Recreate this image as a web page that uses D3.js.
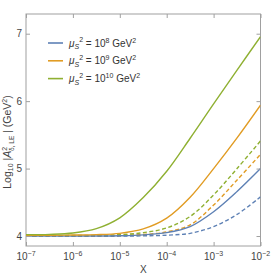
<!DOCTYPE html>
<html>
<head>
<meta charset="utf-8">
<script src="https://cdn.jsdelivr.net/npm/d3@7"></script>
<style>
  body { margin: 0; background: #fff; }
  svg text { font-family: "Liberation Sans", Arial, sans-serif; }
</style>
</head>
<body>
<svg id="chart" width="271" height="277"></svg>
<script>
//Data (half-decade steps in X)
const xValues = [1e-7, 3.162e-7, 1e-6, 3.162e-6, 1e-5, 3.162e-5, 1e-4, 3.162e-4, 1e-3, 3.162e-3, 1e-2];
const greenSolid  = [4.02, 4.025, 4.045, 4.11, 4.27, 4.57, 4.96, 5.45, 5.96, 6.46, 6.955];
const orangeSolid = [4.01, 4.011, 4.014, 4.02, 4.04, 4.105, 4.265, 4.575, 5.0, 5.455, 5.94];
const greenDash   = [4.005, 4.005, 4.007, 4.01, 4.02, 4.05, 4.12, 4.29, 4.61, 5.0, 5.41];
const orangeDash  = [4.0, 4.0, 4.002, 4.004, 4.008, 4.022, 4.06, 4.165, 4.46, 4.83, 5.21];
const blueSolid   = [3.998, 3.998, 3.999, 4.0, 4.004, 4.017, 4.05, 4.14, 4.36, 4.66, 5.0];
const blueDash    = [3.995, 3.995, 3.995, 3.996, 3.998, 4.003, 4.012, 4.04, 4.14, 4.32, 4.58];
const muExps = [8, 9, 10];
const xTickExps = [-7, -6, -5, -4, -3, -2];
const yTicks = [4, 5, 6, 7];

const colors = { blue: "#5E81B5", orange: "#E19C24", green: "#8FB032" };

let series = [
    { v: blueDash, c: colors.blue, dash: true },
    { v: orangeDash, c: colors.orange, dash: true },
    { v: greenDash, c: colors.green, dash: true },
    { v: blueSolid, c: colors.blue, dash: false },
    { v: orangeSolid, c: colors.orange, dash: false },
    { v: greenSolid, c: colors.green, dash: false },
];

let svg = d3.select("#chart");
let plotLeft = 26, plotRight = 260.5, plotTop = 14, plotBottom = 246;

let x = d3.scaleLog().domain([1e-7, 1e-2]).range([plotLeft, plotRight]);
let y = d3.scaleLinear().domain([3.852, 7.292]).range([plotBottom, plotTop]);

//Frame
svg.append("rect")
    .attr("x", plotLeft).attr("y", plotTop)
    .attr("width", plotRight - plotLeft).attr("height", plotBottom - plotTop)
    .attr("fill", "none").attr("stroke", "#a0a0a0").attr("stroke-width", 1);

//Curves
svg.append("clipPath").attr("id", "clip")
    .append("rect").attr("x", plotLeft).attr("y", plotTop)
    .attr("width", plotRight - plotLeft).attr("height", plotBottom - plotTop);

let line = d3.line()
    .x((d, i) => x(xValues[i]))
    .y(d => y(d))
    .curve(d3.curveCatmullRom.alpha(0.5));

svg.append("g").attr("clip-path", "url(#clip)")
    .selectAll("path")
    .data(series)
    .enter().append("path")
    .attr("d", d => line(d.v))
    .attr("fill", "none")
    .attr("stroke", d => d.c)
    .attr("stroke-width", 1.4)
    .attr("stroke-dasharray", d => d.dash ? "4,2.5" : null);

//Axes (ticks inside the frame, like Mathematica)
let tickColor = "#a0a0a0";
let xTickVals = xTickExps.map(e => Math.pow(10, e));
let bottomAxis = svg.append("g").attr("transform", `translate(0,${plotBottom})`)
    .call(d3.axisBottom(x).tickValues(xTickVals).tickSize(-4).tickFormat(""));
let topAxis = svg.append("g").attr("transform", `translate(0,${plotTop})`)
    .call(d3.axisTop(x).tickValues(xTickVals).tickSize(-4).tickFormat(""));
let leftAxis = svg.append("g").attr("transform", `translate(${plotLeft},0)`)
    .call(d3.axisLeft(y).tickValues(yTicks).tickSize(-4).tickFormat(""));
let rightAxis = svg.append("g").attr("transform", `translate(${plotRight},0)`)
    .call(d3.axisRight(y).tickValues(yTicks).tickSize(-4).tickFormat(""));
[bottomAxis, topAxis, leftAxis, rightAxis].forEach(g => {
    g.select(".domain").remove();
    g.selectAll("line").attr("stroke", tickColor);
});

//Tick labels
let labelColor = "#444";
xTickExps.forEach(e => {
    let t = svg.append("text")
        .attr("x", x(Math.pow(10, e))).attr("y", 260)
        .attr("text-anchor", "middle")
        .attr("font-size", 10).attr("fill", labelColor);
    t.append("tspan").text("10");
    t.append("tspan").attr("dy", -4).attr("font-size", 7).text("\u2212" + (-e));
});
yTicks.forEach(v => {
    svg.append("text")
        .attr("x", 22).attr("y", y(v) + 3.5)
        .attr("text-anchor", "end")
        .attr("font-size", 10).attr("fill", labelColor)
        .text(v);
});

//Axis titles
svg.append("text")
    .attr("x", (plotLeft + plotRight) / 2).attr("y", 273)
    .attr("text-anchor", "middle")
    .attr("font-size", 10).attr("fill", labelColor)
    .text("X");

let yTitle = svg.append("text")
    .attr("transform", "translate(11,142) rotate(-90)")
    .attr("text-anchor", "middle")
    .attr("font-size", 10.5).attr("fill", labelColor);
yTitle.append("tspan").text("Log");
yTitle.append("tspan").attr("dy", 2).attr("font-size", 7).text("10");
yTitle.append("tspan").attr("dy", -2).text(" |");
yTitle.append("tspan").attr("font-style", "italic").text("A");
yTitle.append("tspan").attr("dy", -4).attr("font-size", 7).text("2");
yTitle.append("tspan").attr("dy", 7).attr("dx", -4).attr("font-size", 6.5).text("\u03b4, LE");
yTitle.append("tspan").attr("dy", -3).text(" | (GeV");
yTitle.append("tspan").attr("dy", -4).attr("font-size", 7).text("2");
yTitle.append("tspan").attr("dy", 4).text(")");

//Legend
let legendColors = [colors.blue, colors.orange, colors.green];
muExps.forEach((e, i) => {
    let ly = 43 + i * 17.8;
    svg.append("line")
        .attr("x1", 48).attr("x2", 63)
        .attr("y1", ly).attr("y2", ly)
        .attr("stroke", legendColors[i]).attr("stroke-width", 1.6);
    let t = svg.append("text")
        .attr("x", 69).attr("y", ly + 3.5)
        .attr("font-size", 10).attr("fill", "#333");
    t.append("tspan").attr("font-style", "italic").text("\u03bc");
    t.append("tspan").attr("dy", 2.5).attr("font-size", 7).attr("font-style", "italic").text("S");
    t.append("tspan").attr("dy", -7).attr("font-size", 7).text("2");
    t.append("tspan").attr("dy", 4.5).text(" = 10");
    t.append("tspan").attr("dy", -4).attr("font-size", 7).text(e);
    t.append("tspan").attr("dy", 4).text(" GeV");
    t.append("tspan").attr("dy", -4).attr("font-size", 7).text("2");
});
</script>
</body>
</html>
